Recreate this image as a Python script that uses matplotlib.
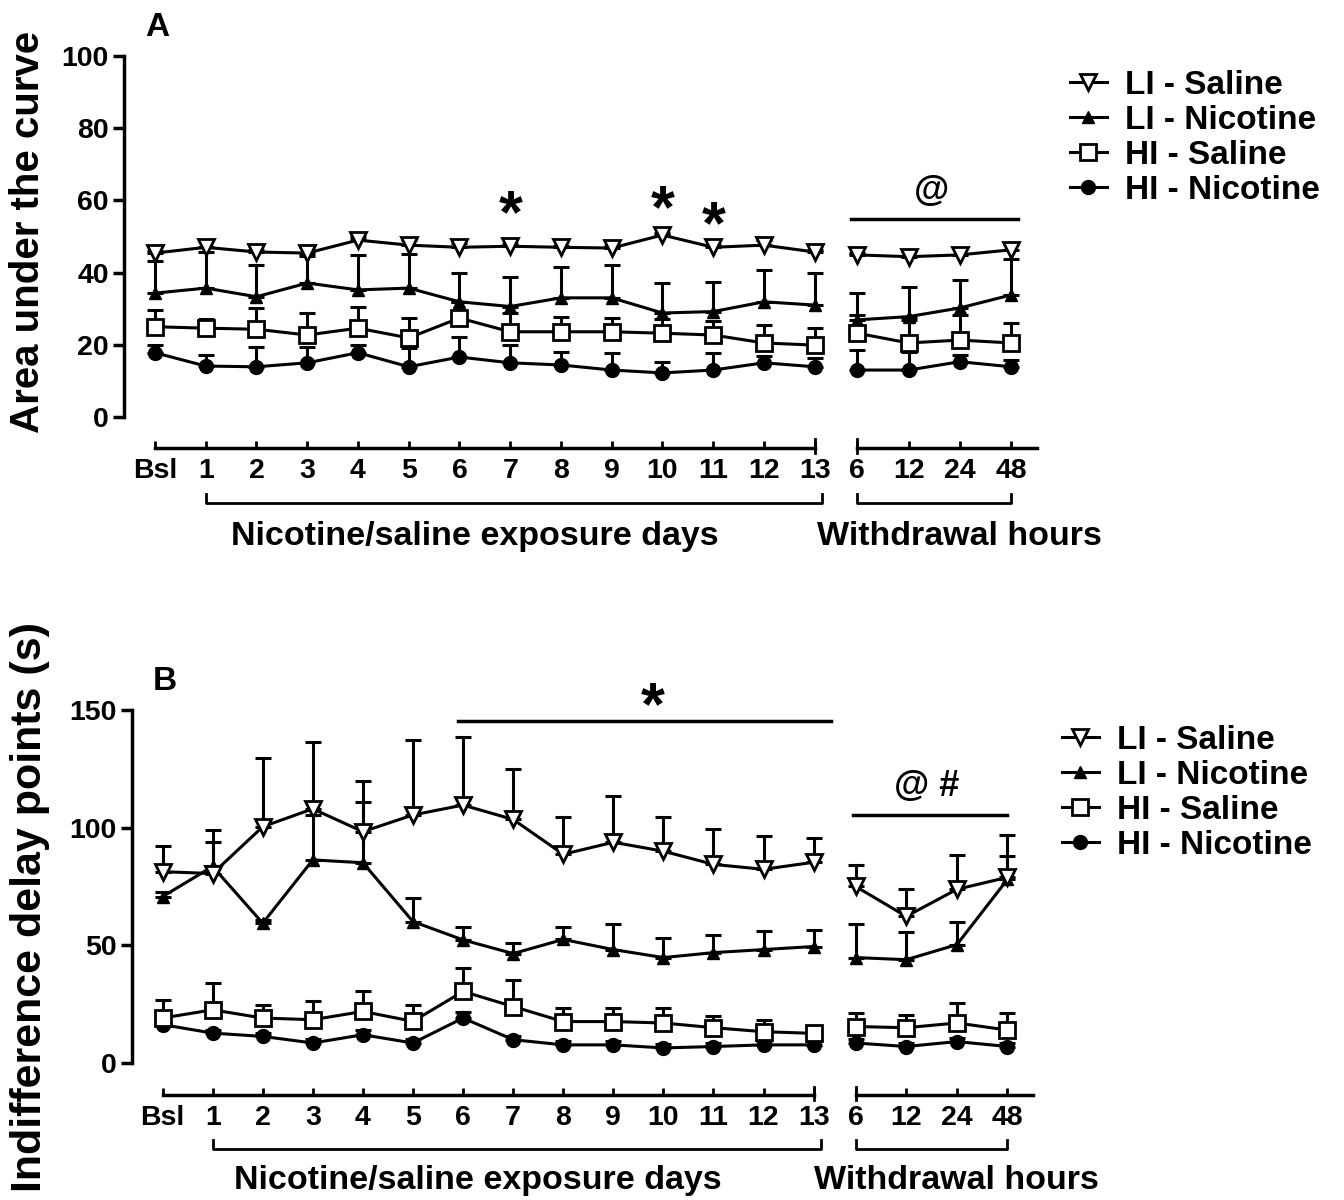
import numpy as np
import matplotlib
matplotlib.use('Agg')
import matplotlib.pyplot as plt
from matplotlib.lines import Line2D
import matplotlib.transforms as mtransforms

plt.rcParams['font.family'] = ['Liberation Sans', 'DejaVu Sans']
plt.rcParams['font.weight'] = 'bold'

# x positions: Bsl, days 1-13, then withdrawal 6/12/24/48 h
day_labels = ['Bsl'] + [str(d) for d in range(1, 14)]
wd_labels = ['6', '12', '24', '48']
day_pos = np.arange(14)
wd_pos = np.array([13.84, 14.85, 15.86, 16.87])

groups = ['LI - Saline', 'LI - Nicotine', 'HI - Saline', 'HI - Nicotine']

# Panel A: area under the curve (mean, SEM) -- days then withdrawal
auc_li_sal = [45.4, 47.0, 45.7, 45.4, 49.0, 47.6, 47.0, 47.3, 47.0, 46.8, 50.4, 47.0, 47.6, 45.7]
auc_li_sal_w = [44.9, 44.4, 44.9, 46.3]
auc_li_sal_e = [0.5, 2.0, 0.5, 1.6, 0.8, 1.4, 1.2, 0.6, 0.5, 0.5, 0.6, 0.6, 1.4, 0.5]
auc_li_sal_we = [0.5, 1.5, 1.8, 1.5]

auc_li_nic = [34.3, 35.7, 33.3, 37.1, 35.2, 35.7, 31.9, 30.6, 33.0, 33.0, 28.8, 29.2, 31.9, 31.0]
auc_li_nic_w = [26.9, 27.8, 30.2, 33.8]
auc_li_nic_e = [9.0, 10.0, 8.8, 7.5, 9.7, 9.5, 8.0, 8.3, 8.6, 9.1, 8.3, 8.3, 8.8, 8.9]
auc_li_nic_we = [7.4, 8.3, 7.8, 10.0]

auc_hi_sal = [25.0, 24.6, 24.3, 22.7, 24.6, 21.9, 27.4, 23.6, 23.6, 23.6, 23.2, 22.7, 20.5, 19.9]
auc_hi_sal_w = [23.2, 20.5, 21.3, 20.5]
auc_hi_sal_e = [4.6, 2.4, 5.9, 6.1, 6.0, 5.5, 4.5, 5.2, 4.2, 3.8, 4.0, 4.0, 5.0, 4.7]
auc_hi_sal_we = [5.0, 6.4, 7.0, 5.5]

auc_hi_nic = [17.8, 14.1, 13.9, 15.0, 17.8, 13.9, 16.6, 15.0, 14.4, 13.0, 12.2, 13.0, 15.0, 13.9]
auc_hi_nic_w = [13.0, 13.0, 15.3, 13.9]
auc_hi_nic_e = [2.0, 3.0, 5.6, 4.5, 2.2, 5.2, 5.6, 5.0, 3.7, 4.7, 3.1, 4.7, 2.0, 2.5]
auc_hi_nic_we = [5.6, 5.0, 2.0, 2.0]

# Panel B: indifference delay points (s)
idp_li_sal = [81.3, 80.5, 100.4, 108.0, 98.3, 105.4, 109.6, 103.5, 88.7, 93.8, 90.0, 84.4, 82.3, 85.3]
idp_li_sal_w = [75.0, 62.3, 73.8, 78.9]
idp_li_sal_e = [10.7, 18.5, 29.0, 28.5, 21.7, 31.8, 29.0, 21.5, 15.8, 19.6, 14.5, 15.0, 14.2, 10.5]
idp_li_sal_we = [9.0, 11.5, 14.5, 17.9]

idp_li_nic = [70.7, 83.5, 59.4, 86.3, 85.1, 60.1, 52.3, 46.5, 52.5, 48.2, 44.8, 46.9, 48.2, 49.5]
idp_li_nic_w = [44.8, 43.9, 50.3, 78.0]
idp_li_nic_e = [2.0, 10.5, 1.5, 19.0, 26.0, 9.9, 5.7, 4.5, 5.5, 10.8, 8.5, 7.7, 7.8, 7.2]
idp_li_nic_we = [14.2, 11.6, 9.7, 10.0]

idp_hi_sal = [19.1, 22.6, 19.1, 18.4, 21.9, 17.7, 30.4, 24.0, 17.6, 17.6, 17.0, 15.0, 13.3, 12.6]
idp_hi_sal_w = [15.5, 15.0, 17.0, 14.0]
idp_hi_sal_e = [7.8, 11.4, 5.7, 7.8, 8.5, 7.1, 9.9, 11.4, 5.9, 5.9, 6.5, 4.8, 5.1, 2.4]
idp_hi_sal_we = [5.8, 5.5, 8.6, 7.3]

idp_hi_nic = [16.3, 12.7, 11.3, 8.5, 12.0, 8.5, 19.1, 9.9, 7.7, 7.7, 6.4, 7.0, 7.7, 7.7]
idp_hi_nic_w = [8.5, 7.0, 9.1, 7.0]
idp_hi_nic_e = [2.0, 1.5, 1.5, 1.5, 2.0, 1.5, 2.5, 1.5, 1.5, 1.5, 1.5, 1.5, 1.5, 1.5]
idp_hi_nic_we = [1.5, 1.5, 1.5, 1.5]

styles = [
    dict(marker='v', ms=12, mfc='white', mec='black', mew=2),
    dict(marker='^', ms=9, mfc='black', mec='black', mew=1),
    dict(marker='s', ms=11, mfc='white', mec='black', mew=2),
    dict(marker='o', ms=10, mfc='black', mec='black', mew=1),
]

LW = 2.2


def draw_series(ax, series):
    for (m, mw, e, ew), st in zip(series, styles):
        for x, y, err in [(day_pos, m, e), (wd_pos, mw, ew)]:
            y = np.asarray(y)
            err = np.asarray(err)
            ax.errorbar(x, y, yerr=[np.zeros_like(err), err], fmt='none', ecolor='black',
                        elinewidth=LW, capsize=6, capthick=LW, zorder=2)
    for (m, mw, e, ew), st in zip(series, styles):
        for x, y in [(day_pos, m), (wd_pos, mw)]:
            ax.plot(x, y, color='black', lw=LW, zorder=3 + (st['mfc'] == 'white'), **st)


def style_axis(ax, ymax, ystep, ylim_low, fig_xlab_y, tick_size=20.5):
    ax.set_xlim(-0.61, 17.38)
    ax.set_ylim(ylim_low, ymax)
    ax.spines['top'].set_visible(False)
    ax.spines['right'].set_visible(False)
    ax.spines['left'].set_bounds(0, ymax)
    ax.spines['left'].set_linewidth(2.5)
    ax.spines['bottom'].set_bounds(0, 13)
    ax.spines['bottom'].set_linewidth(2.5)
    ax.set_yticks(np.arange(0, ymax + 1, ystep))
    ax.tick_params(axis='y', direction='out', length=8, width=2.5, labelsize=tick_size, pad=3)
    ax.set_xticks(list(day_pos) + list(wd_pos))
    ax.set_xticklabels(day_labels + wd_labels)
    ax.tick_params(axis='x', direction='in', length=5, width=2, labelsize=tick_size, pad=7)

    trans = mtransforms.blended_transform_factory(ax.transData, ax.transAxes)
    # withdrawal axis segment
    ax.plot([wd_pos[0], 17.38], [0, 0], color='black', lw=2.5, transform=trans, clip_on=False)
    # end marks of both segments
    for xe in [13, wd_pos[0]]:
        ax.plot([xe, xe], [-0.012, 0.022], color='black', lw=2, transform=trans, clip_on=False)
    # brackets
    by = -0.14
    for x0, x1 in [(1, 13.15), (wd_pos[0], wd_pos[-1])]:
        ax.plot([x0, x0, x1, x1], [by + 0.022, by, by, by + 0.022], color='black', lw=2,
                transform=trans, clip_on=False)
    ax.text(6.3, fig_xlab_y, 'Nicotine/saline exposure days', transform=trans, ha='center',
            va='center', fontsize=24.5)
    ax.text(15.85, fig_xlab_y, 'Withdrawal hours', transform=trans, ha='center',
            va='center', fontsize=24.5)


def add_legend(fig, x, y):
    handles = [Line2D([0], [0], color='black', lw=LW, **st) for st in styles]
    fig.legend(handles, groups, loc='upper left', bbox_to_anchor=(x, y), frameon=False,
               fontsize=24, handlelength=1.1, handletextpad=0.55, labelspacing=0.12,
               borderpad=0, borderaxespad=0)


fig = plt.figure(figsize=(13.44, 12), dpi=100)

# Panel A
axA = fig.add_axes([124 / 1344, 1 - 448 / 1200, 913 / 1344, 392 / 1200])
draw_series(axA, [
    (auc_li_sal, auc_li_sal_w, auc_li_sal_e, auc_li_sal_we),
    (auc_li_nic, auc_li_nic_w, auc_li_nic_e, auc_li_nic_we),
    (auc_hi_sal, auc_hi_sal_w, auc_hi_sal_e, auc_hi_sal_we),
    (auc_hi_nic, auc_hi_nic_w, auc_hi_nic_e, auc_hi_nic_we),
])
style_axis(axA, 100, 20, -8.6, -0.227)
for xs, ys in [(7, 55.5), (10, 57.0), (11, 52.5)]:
    axA.text(xs, ys, '*', ha='center', va='center', fontsize=44)
axA.plot([13.72, 17.0], [54.8, 54.8], color='black', lw=2.5)
axA.text(15.3, 62.5, '@', ha='center', va='center', fontsize=26)
fig.text(157 / 1344, 1 - 27 / 1200, 'A', ha='center', va='center', fontsize=24)
fig.text(28 / 1344, 1 - 232 / 1200, 'Area under the curve', rotation=90, ha='center',
         va='center', fontsize=29)
add_legend(fig, 1070 / 1344, 1 - 70 / 1200)

# Panel B
axB = fig.add_axes([132 / 1344, 1 - 1095 / 1200, 901 / 1344, 385 / 1200])
draw_series(axB, [
    (idp_li_sal, idp_li_sal_w, idp_li_sal_e, idp_li_sal_we),
    (idp_li_nic, idp_li_nic_w, idp_li_nic_e, idp_li_nic_we),
    (idp_hi_sal, idp_hi_sal_w, idp_hi_sal_e, idp_hi_sal_we),
    (idp_hi_nic, idp_hi_nic_w, idp_hi_nic_e, idp_hi_nic_we),
])
style_axis(axB, 150, 50, -13.6, -0.221)
axB.plot([5.9, 13.34], [145.5, 145.5], color='black', lw=2.5)
axB.text(9.78, 150.5, '*', ha='center', va='center', fontsize=44)
axB.plot([13.78, 16.87], [105.4, 105.4], color='black', lw=2.5)
axB.text(15.26, 117.3, '@ #', ha='center', va='center', fontsize=26)
fig.text(165 / 1344, 1 - 682 / 1200, 'B', ha='center', va='center', fontsize=24)
fig.text(30 / 1344, 1 - 907 / 1200, 'Indifference delay points (s)', rotation=90,
         ha='center', va='center', fontsize=31)
add_legend(fig, 1062 / 1344, 1 - 725 / 1200)

fig.savefig('out.png', dpi=100)
